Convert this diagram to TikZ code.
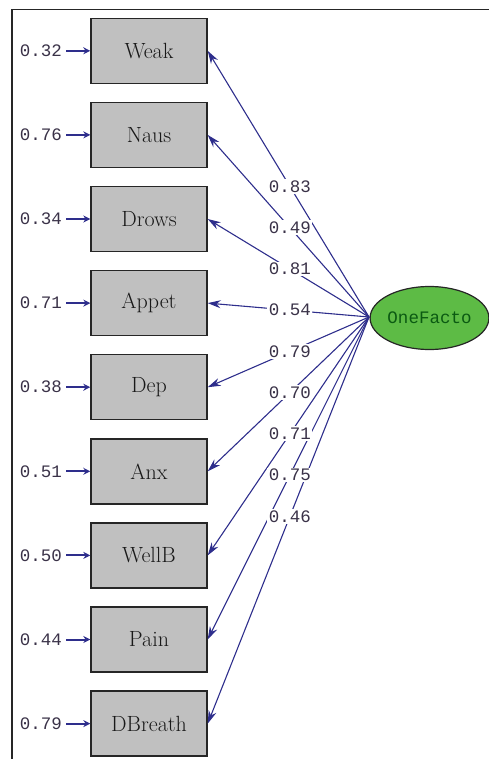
\documentclass[tikz,border=0pt]{standalone}
\usepackage{fontspec}
\newfontfamily\monofont{Liberation Mono}
\usetikzlibrary{arrows.meta,calc,shapes.geometric}
\definecolor{lineblue}{HTML}{2E2E8C}
\definecolor{boxgray}{HTML}{C0C0C0}
\definecolor{factgreen}{HTML}{5DBB45}
\definecolor{factText}{HTML}{0B5A12}
\definecolor{numcol}{HTML}{3A3248}
\tikzset{
  x=1pt, y=-1pt,
  obsbox/.style={draw=black!85, line width=1.4pt, fill=boxgray, minimum width=116pt, minimum height=65pt, inner sep=0pt, text=black!90, font=\fontsize{22}{24}\selectfont},
  factor/.style={draw=black!85, line width=1.2pt, fill=factgreen, ellipse, minimum width=112pt, minimum height=63pt, inner sep=0pt, text=factText, font=\monofont\fontsize{17.5}{19}\selectfont},
  loading/.style={draw=lineblue, line width=1.1pt, -{Stealth[length=13pt,width=8pt]}},
  errarrow/.style={draw=lineblue, line width=2pt, -{Stealth[length=7pt,width=7pt]}},
  loadlabel/.style={fill=white, inner sep=1.5pt, text=numcol, font=\monofont\fontsize{17.5}{19}\selectfont},
  errlabel/.style={anchor=east, inner sep=0pt, text=numcol, font=\monofont\fontsize{17.5}{19}\selectfont},
  frameline/.style={draw=black!85, line width=1.8pt}
}
\begin{document}
\begin{tikzpicture}
\useasboundingbox (0,0) rectangle (489,759);
\draw[frameline] (12,759) -- (12,9.5) -- (489,9.5);
\node[factor] (F) at (429.5,318) {OneFacto};
\coordinate (f) at (369,317);
\foreach \name/\err [count=\i from 0] in {Weak/0.32, Naus/0.76, Drows/0.34, Appet/0.71, Dep/0.38, Anx/0.51, WellB/0.50, Pain/0.44, DBreath/0.79}{
  \node[obsbox] (\name) at (149, 50.8+84.1*\i) {\name};
  \coordinate (e\name) at (66, 50.8+84.1*\i);
  \node[errlabel] (el\name) at (62, 50.8+84.1*\i) {\err};
  \draw[errarrow] (e\name) -- (\name.west);
  \draw[loading] (f) -- (\name.east);
}
\foreach \name/\load in {Weak/0.83, Naus/0.49, Drows/0.81, Appet/0.54, Dep/0.79, Anx/0.70, WellB/0.71, Pain/0.75, DBreath/0.46}{
  \node[loadlabel] (l\name) at ($(\name.east)!0.51!(f)$) {\load};
}
\end{tikzpicture}
\end{document}
